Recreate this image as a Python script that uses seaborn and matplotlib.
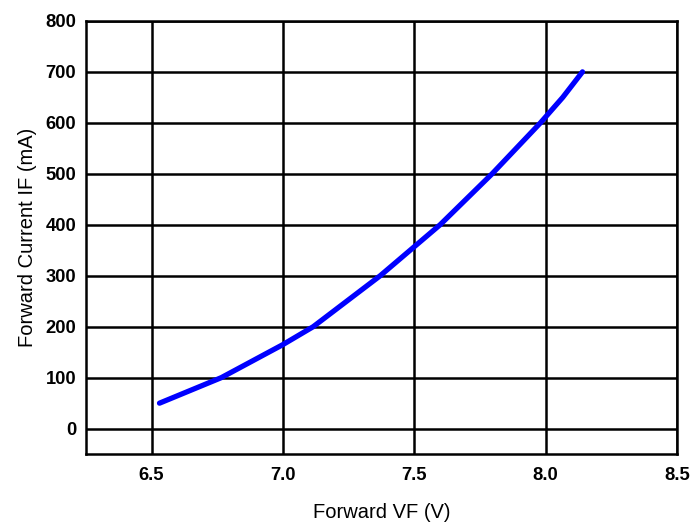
import numpy as np
import pandas as pd
import matplotlib
matplotlib.use("Agg")
import matplotlib.pyplot as plt
import seaborn as sns

# forward voltage (V) vs forward current (mA)
vf = [6.53, 6.765, 7.0, 7.115, 7.37, 7.598, 7.796, 7.98, 8.065, 8.14]
i_f = [50, 100, 165, 200, 300, 400, 500, 600, 650, 700]

x_ticks = [6.5, 7.0, 7.5, 8.0, 8.5]
y_ticks = [0, 100, 200, 300, 400, 500, 600, 700, 800]

df = pd.DataFrame({"VF": vf, "IF": i_f})

sns.set_style("white")
plt.rcParams["font.family"] = ["Liberation Sans", "DejaVu Sans"]
plt.rcParams["text.color"] = "black"
plt.rcParams["axes.labelcolor"] = "black"
plt.rcParams["xtick.color"] = "black"
plt.rcParams["ytick.color"] = "black"

fig = plt.figure(figsize=(6.93, 5.22), dpi=100)
ax = fig.add_axes([0.124, 0.130, 0.853, 0.830])

sns.lineplot(data=df, x="VF", y="IF", ax=ax, color="#0000ff", linewidth=3.8,
             sort=False, solid_capstyle="round")

ax.set_xlim(6.25, 8.5)
ax.set_ylim(-50, 800)
ax.set_xticks(x_ticks)
ax.set_yticks(y_ticks)
ax.set_xticklabels([f"{v:.1f}" for v in x_ticks], fontweight="bold", fontsize=13.2)
ax.set_yticklabels([str(v) for v in y_ticks], fontweight="bold", fontsize=13.2)
ax.tick_params(axis="x", length=0, pad=9)
ax.tick_params(axis="y", length=0, pad=7)
ax.grid(True, color="black", linewidth=1.8)
ax.set_axisbelow(True)
for s in ax.spines.values():
    s.set_color("black")
    s.set_linewidth(1.8)

ax.set_xlabel("Forward VF (V)", fontsize=14.5, labelpad=14)
ax.set_ylabel("Forward Current IF (mA)", fontsize=14.5, labelpad=6)

fig.savefig("out.png", dpi=100, facecolor="white")
